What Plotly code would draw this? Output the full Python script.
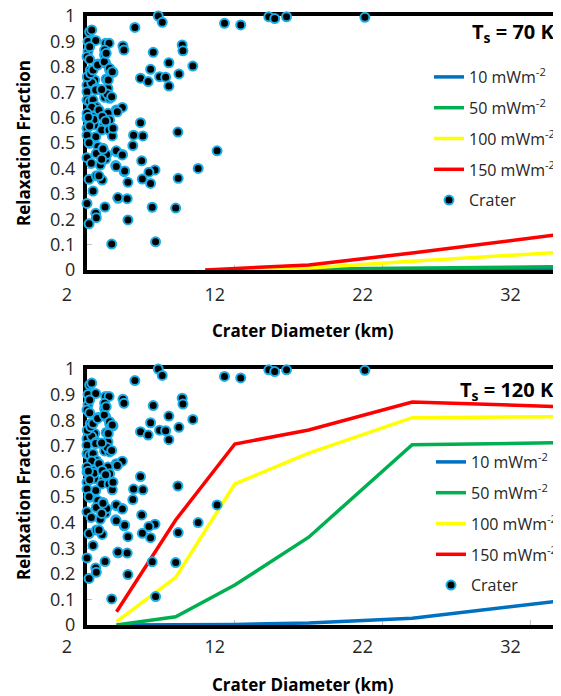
import plotly.graph_objects as go

# ---------------- data ----------------
crater_diameter = [
    6.82, 7.09, 5.24, 11.3, 12.4, 14.3, 14.7, 15.5, 20.8,
    6.48, 8.44, 8.49, 7.54, 6.3, 9.16, 8.22, 5.62, 6.14, 6.91, 7.32, 7.54,
    4.43, 4.5, 5.62, 5.15, 5.78, 5.1, 8.15, 10.8, 5.7, 9.52, 6.6, 6.19, 8.17, 5.74, 6.3,
    4.77, 4.52, 4.39, 3.98, 3.94, 4.1, 4.72, 4.77, 6.41, 8.0, 6.64, 3.67, 3.22,
    2.18, 2.32, 2.07, 2.59, 3.26, 3.49, 3.19, 3.19, 2.07, 2.0, 2.18, 2.18, 2.74, 3.26,
    2.22, 3.76, 3.53, 2.07, 2.52, 3.3, 2.0, 2.32, 2.63, 3.42, 2.97, 2.0, 2.0, 2.18,
    3.19, 3.53, 2.41, 2.63, 2.32, 3.98, 4.39, 2.0, 2.41, 2.97, 3.42, 3.53, 2.0, 2.52,
    3.08, 3.71, 2.0, 2.47, 2.99, 3.49, 2.59, 2.0, 3.71, 2.18, 2.74, 3.08, 2.14, 3.98,
    4.39, 2.0, 2.29, 2.9, 3.26, 3.33, 2.63, 3.98, 4.55, 2.14, 2.63, 3.03, 2.41, 4.09,
    2.0, 2.59, 2.63, 2.14,
    2.02, 2.25, 2.41, 2.72, 3.17, 3.3, 3.53, 3.71, 3.44, 3.37, 3.67, 2.59, 2.99, 2.81,
    3.03, 3.26, 4.05, 2.09, 2.18, 2.81, 2.99, 3.08, 3.76,
]
crater_relaxation = [
    1.0, 0.975, 0.955, 0.971, 0.965, 0.997, 0.99, 0.997, 0.995,
    0.857, 0.886, 0.863, 0.816, 0.79, 0.803, 0.772, 0.755, 0.742, 0.761, 0.759, 0.724,
    0.882, 0.866, 0.58, 0.531, 0.528, 0.49, 0.543, 0.469, 0.43, 0.4, 0.394, 0.385, 0.361, 0.358, 0.341,
    0.345, 0.387, 0.455, 0.466, 0.411, 0.282, 0.281, 0.197, 0.247, 0.244, 0.111, 0.102, 0.248,
    0.938, 0.945, 0.9, 0.904, 0.893, 0.893, 0.866, 0.846, 0.86, 0.84, 0.879, 0.829, 0.811, 0.814,
    0.786, 0.778, 0.787, 0.755, 0.748, 0.752, 0.728, 0.737, 0.715, 0.715, 0.709, 0.702, 0.669, 0.663,
    0.68, 0.676, 0.669, 0.643, 0.641, 0.63, 0.64, 0.597, 0.604, 0.606, 0.617, 0.591, 0.558, 0.571,
    0.564, 0.558, 0.617, 0.593, 0.551, 0.551, 0.525, 0.531, 0.528, 0.499, 0.486, 0.479, 0.501, 0.469,
    0.453, 0.442, 0.42, 0.413, 0.437, 0.455, 0.459, 0.407, 0.39, 0.357, 0.371, 0.354, 0.311, 0.285,
    0.262, 0.223, 0.206, 0.182,
    0.761, 0.774, 0.787, 0.807, 0.82, 0.853, 0.794, 0.781, 0.748, 0.693, 0.682, 0.709, 0.711, 0.63,
    0.604, 0.587, 0.623, 0.601, 0.567, 0.371, 0.436, 0.476, 0.558,
]

flux_labels = ["10 mWm<sup>-2</sup>", "50 mWm<sup>-2</sup>",
               "100 mWm<sup>-2</sup>", "150 mWm<sup>-2</sup>"]

# Ts = 70 K
diam_70 = [10, 17, 24, 34]
relax70_10 = [0.0, 0.0, 0.001, 0.002]
relax70_50 = [0.0, 0.003, 0.009, 0.013]
relax70_100 = [0.0, 0.008, 0.034, 0.07]
relax70_150 = [0.0, 0.02, 0.067, 0.14]

# Ts = 120 K
diam_120 = [4, 8, 12, 17, 24, 34]
relax120_10 = [0.0, 0.0, 0.002, 0.008, 0.026, 0.094]
relax120_50 = [0.0, 0.032, 0.156, 0.343, 0.704, 0.712]
relax120_100 = [0.013, 0.186, 0.551, 0.671, 0.81, 0.814]
relax120_150 = [0.052, 0.41, 0.707, 0.762, 0.871, 0.853]

x_ticks = [2, 12, 22, 32]
y_ticks = [0, 0.1, 0.2, 0.3, 0.4, 0.5, 0.6, 0.7, 0.8, 0.9, 1]
y_ticktext = ["0", "0.1", "0.2", "0.3", "0.4", "0.5", "0.6", "0.7", "0.8", "0.9", "1"]

line_colors = ["#0070C0", "#00B050", "#FFFF00", "#FF0000"]
marker_line = "#1AAEE8"
FONT = "Open Sans"

fig = go.Figure()

panels = [
    (diam_70, [relax70_10, relax70_50, relax70_100, relax70_150], "x", "y", "legend"),
    (diam_120, [relax120_10, relax120_50, relax120_100, relax120_150], "x2", "y2", "legend2"),
]
for diam, series, xa, ya, lg in panels:
    for i, (vals, name) in enumerate(zip(series, flux_labels)):
        fig.add_trace(go.Scatter(
            x=diam, y=vals, mode="lines", name=name,
            line=dict(color=line_colors[i], width=3.5),
            xaxis=xa, yaxis=ya, legend=lg, legendgroup=f"{lg}{i}",
            cliponaxis=False,
        ))
    fig.add_trace(go.Scatter(
        x=crater_diameter, y=crater_relaxation, mode="markers", name="Crater",
        marker=dict(color="black", size=9, line=dict(color=marker_line, width=2)),
        xaxis=xa, yaxis=ya, legend=lg, legendgroup=f"{lg}c",
        cliponaxis=False,
    ))

# The page body adds an 8 px offset; figure is sized so that the plot areas land at
# window x 87..560, top panel y 16..270, bottom panel y 369..625.
OFF = 8
W, H = 561 - OFF, 696 - OFF
ml, mr, mt, mb = 87 - OFF, 1, 16 - OFF, 71
ph = H - mt - mb


def py(pix):  # window pixel -> paper y
    return (625 - pix) / ph


def px(pix):  # window pixel -> paper x
    return (pix - 87) / (W - ml - mr)


axis_common = dict(
    showline=True, linecolor="black", linewidth=4, mirror=True,
    showgrid=False, zeroline=False, layer="below traces", automargin=False,
    ticks="inside", ticklen=5, tickcolor="#BFBFBF", tickwidth=1,
    ticklabeloverflow="allow",
    tickfont=dict(family=FONT, size=18, color="#262626"),
)

legend_common = dict(xanchor="left", yanchor="top", bgcolor="rgba(0,0,0,0)",
                     font=dict(family=FONT, size=16, color="#262626"),
                     traceorder="grouped", tracegroupgap=7, itemwidth=30)

fig.update_layout(
    width=W, height=H,
    margin=dict(l=ml, r=mr, t=mt, b=mb, autoexpand=False),
    paper_bgcolor="white", plot_bgcolor="white",
    font=dict(family=FONT, color="black"),
    showlegend=True,
    xaxis=dict(domain=[0, 1], range=[2, 34], anchor="y", tickvals=x_ticks,
               ticklabelshift=-20, ticklabelstandoff=5, **axis_common),
    yaxis=dict(domain=[py(270), 1], range=[0, 1], anchor="x", tickvals=y_ticks,
               ticktext=y_ticktext, ticklabelstandoff=4, **axis_common),
    xaxis2=dict(domain=[0, 1], range=[2, 34], anchor="y2", tickvals=x_ticks,
                ticklabelshift=-20, ticklabelstandoff=2, **axis_common),
    yaxis2=dict(domain=[0, py(369)], range=[0, 1], anchor="x2", tickvals=y_ticks,
                ticktext=y_ticktext, ticklabelstandoff=4, **axis_common),
    legend=dict(x=px(429), y=py(60), **legend_common),
    legend2=dict(x=px(431), y=py(445), **legend_common),
)

ann = []
for ytxt, label, ytitle in [(33, "T<sub>s</sub> = 70 K", 143), (390, "T<sub>s</sub> = 120 K", 497)]:
    ann.append(dict(x=px(556), y=py(ytxt), xref="paper", yref="paper", text="<b>" + label + "</b>",
                    showarrow=False, xanchor="right", yanchor="middle",
                    font=dict(family=FONT, size=20, color="black")))
    ann.append(dict(x=px(23), y=py(ytitle), xref="paper", yref="paper",
                    text="<b>Relaxation Fraction</b>", textangle=-90, showarrow=False,
                    xanchor="center", yanchor="middle",
                    font=dict(family=FONT, size=17, color="black")))
for ytitle in [331, 684]:
    ann.append(dict(x=px(303), y=py(ytitle), xref="paper", yref="paper",
                    text="<b>Crater Diameter (km)</b>", showarrow=False,
                    xanchor="center", yanchor="middle",
                    font=dict(family=FONT, size=17, color="black")))
fig.update_layout(annotations=ann)

fig.write_html("out.html")
